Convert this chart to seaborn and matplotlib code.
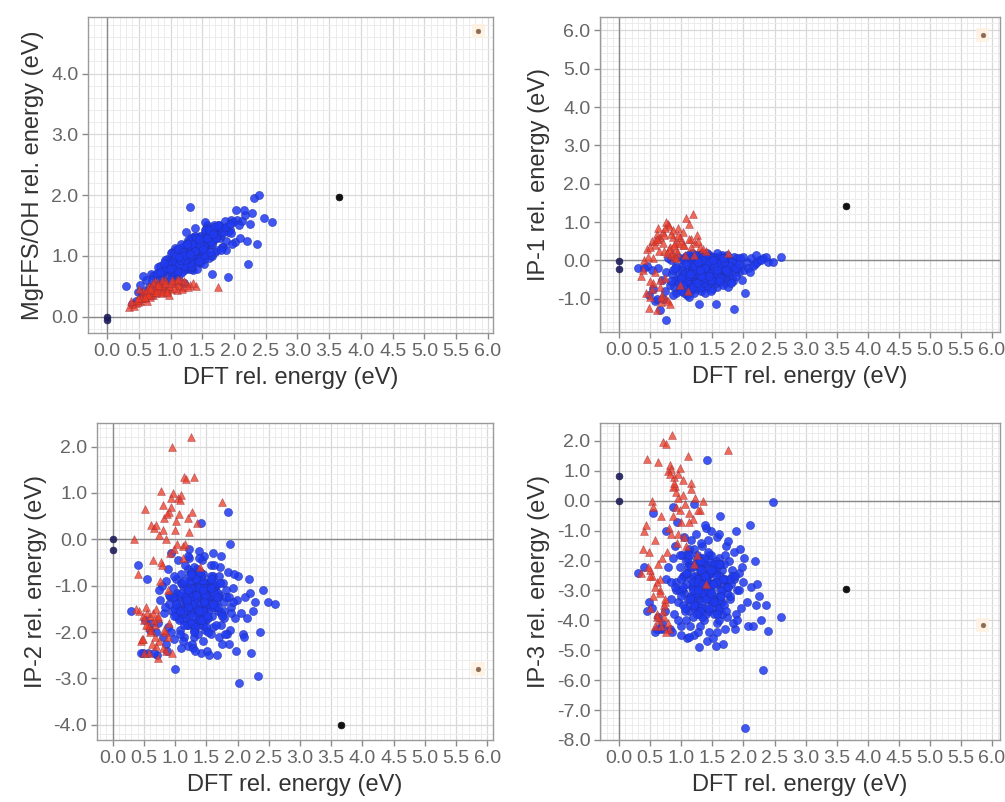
import matplotlib
matplotlib.use("Agg")
import matplotlib.pyplot as plt
import seaborn as sns
from matplotlib.ticker import MultipleLocator, FormatStrFormatter

# ---------------- data ----------------
dft_blue = [
    1.32, 1.05, 1.61, 0.88, 1.47, 1.21, 1.78, 0.97, 1.38, 1.55,
    1.12, 1.69, 0.76, 1.43, 1.27, 1.93, 1.01, 1.36, 1.58, 0.83,
    1.18, 1.49, 1.74, 0.92, 1.30, 1.63, 1.08, 2.05, 1.41, 1.25,
    0.69, 1.52, 1.15, 1.84, 1.34, 0.95, 1.66, 1.22, 1.45, 1.88,
    1.03, 1.57, 0.81, 1.39, 2.12, 1.17, 1.71, 1.28, 0.99, 1.50,
    1.62, 1.10, 1.44, 1.96, 0.86, 1.35, 1.59, 1.20, 1.81, 1.06,
    1.47, 0.73, 1.29, 1.68, 1.13, 2.01, 1.40, 0.94, 1.54, 1.24,
    1.76, 1.02, 1.37, 0.62, 1.60, 1.16, 1.90, 1.31, 1.48, 0.89,
    1.26, 1.72, 1.09, 2.18, 1.42, 0.79, 1.56, 1.19, 1.86, 1.33,
    0.98, 1.65, 1.23, 1.45, 2.25, 1.07, 1.53, 0.85, 1.36, 1.79,
    1.14, 1.99, 1.30, 0.57, 1.61, 1.39, 1.04, 1.70, 1.27, 2.08,
    1.51, 0.91, 1.44, 1.83, 1.19, 1.58, 0.71, 1.34, 1.95, 1.11,
    2.32, 1.46, 1.00, 1.67, 1.25, 2.40, 0.52, 1.88, 2.48, 1.38,
    2.15, 2.60, 1.55, 0.66, 2.22, 1.75, 2.03, 1.12, 2.36, 0.48,
    1.85, 1.29, 2.28, 1.63, 0.75, 2.10, 1.42, 0.93, 1.97, 1.20,
    1.48, 1.08, 1.73, 1.32, 0.87, 1.58, 1.16, 1.80, 1.37, 1.01,
    1.30, 0.30, 0.45, 0.55, 2.20, 0.60, 0.40, 1.90, 1.65, 1.22,
    1.25, 1.40, 1.10, 1.55, 1.33, 1.18, 1.47, 1.62, 1.05, 1.36,
    1.28, 1.52, 1.14, 1.44, 1.71, 1.22, 1.38, 0.96, 1.59, 1.31,
    1.45, 1.09, 1.35, 1.66, 1.20, 1.50, 1.27, 1.82, 1.13, 1.42,
    1.58, 1.24, 1.39, 1.00, 1.53, 1.31, 1.74, 1.16, 1.46, 1.62,
    1.35, 1.19, 1.56, 1.29, 1.43, 0.90, 1.68, 1.26, 1.49, 1.11,
    1.41, 1.64, 1.21, 1.37, 1.06, 1.54, 1.33, 1.78, 1.17, 1.46,
    1.30, 1.50, 1.12, 1.60, 1.39, 1.23, 1.87, 1.44, 1.02, 1.57,
    1.48, 1.27, 1.69, 1.15, 1.36, 1.52, 0.84, 1.40, 1.63, 1.25,
    1.19, 1.43, 1.57, 1.32, 1.75, 1.08, 1.47, 1.34, 1.93, 1.21,
    1.38, 1.61, 1.26, 1.51, 1.14, 1.72, 1.30, 1.45, 0.99, 1.67,
]
mgffs_blue = [
    1.06, 0.67, 1.32, 0.72, 0.88, 1.12, 1.30, 0.90, 0.93, 1.38,
    0.73, 1.32, 0.69, 1.23, 0.79, 1.42, 0.95, 0.76, 1.05, 0.83,
    1.15, 1.14, 1.10, 0.59, 0.98, 1.38, 0.89, 1.59, 0.79, 1.05,
    0.70, 0.86, 0.88, 1.46, 1.25, 0.83, 1.00, 0.78, 1.20, 1.24,
    1.06, 1.24, 0.82, 1.03, 1.58, 0.80, 1.43, 1.11, 0.68, 0.95,
    1.17, 0.95, 0.93, 1.59, 0.70, 1.31, 1.41, 0.81, 1.14, 0.83,
    1.28, 0.67, 0.90, 1.51, 1.00, 1.22, 1.19, 0.95, 1.17, 1.19,
    1.51, 0.70, 1.09, 0.60, 0.96, 0.96, 1.40, 1.23, 1.26, 0.77,
    0.80, 1.29, 1.10, 1.67, 1.30, 0.71, 1.44, 1.01, 1.57, 0.79,
    0.85, 1.44, 0.93, 0.97, 1.52, 1.13, 0.95, 0.60, 1.16, 1.35,
    0.93, 1.55, 1.08, 0.67, 1.37, 1.28, 0.74, 1.07, 1.26, 1.51,
    1.21, 0.93, 1.26, 1.15, 1.06, 1.50, 0.61, 1.00, 1.38, 1.11,
    1.95, 1.30, 0.78, 1.25, 1.40, 2.00, 0.52, 1.10, 1.62, 1.45,
    1.75, 1.55, 1.55, 0.48, 0.87, 1.40, 1.75, 0.64, 1.20, 0.40,
    1.45, 0.85, 1.70, 1.02, 0.52, 1.30, 0.90, 0.80, 1.20, 0.75,
    0.98, 0.88, 1.32, 0.82, 0.62, 1.18, 0.72, 1.10, 1.20, 0.62,
    1.80, 0.50, 0.25, 0.35, 1.25, 0.42, 0.20, 0.65, 0.70, 0.55,
    1.00, 1.19, 0.75, 1.23, 0.84, 1.10, 0.98, 1.22, 0.92, 1.26,
    1.16, 1.11, 1.03, 1.31, 1.33, 0.83, 1.08, 0.87, 1.41, 0.88,
    0.92, 1.05, 1.16, 1.20, 0.96, 1.30, 1.21, 1.40, 0.87, 1.10,
    1.45, 0.99, 1.18, 1.04, 1.02, 1.13, 1.35, 1.19, 1.33, 1.07,
    1.01, 1.01, 1.29, 1.22, 1.13, 0.88, 1.36, 0.95, 1.14, 1.06,
    1.25, 1.29, 0.97, 1.12, 1.03, 1.42, 1.29, 1.47, 1.05, 1.08,
    1.08, 1.15, 1.11, 1.36, 1.33, 0.93, 1.48, 1.09, 0.80, 1.24,
    1.24, 1.16, 1.47, 0.93, 1.01, 1.16, 0.74, 1.29, 1.23, 1.05,
    1.06, 1.11, 1.29, 0.99, 1.51, 0.99, 1.18, 1.20, 1.52, 1.02,
    1.08, 1.42, 1.20, 1.11, 0.98, 1.29, 1.03, 1.27, 0.78, 1.36,
]
ip1_blue = [
    -0.35, 0.05, -0.55, -0.70, 0.10, -0.25, -0.10, -0.45, -0.70, -0.20,
    -0.60, 0.05, -0.30, -0.45, 0.15, -0.30, -0.15, -0.05, -0.70, 0.00,
    -0.05, -0.30, -0.40, -0.85, -0.55, 0.12, -0.35, -0.05, 0.05, -0.75,
    -0.50, -0.10, -0.80, 0.10, -0.20, 0.10, -0.25, -0.45, -0.60, -0.15,
    -0.55, -0.45, -0.65, -0.35, 0.05, 0.18, -0.60, -0.10, -0.25, -0.75,
    -0.05, -0.20, 0.15, -0.15, -0.90, -0.60, 0.00, 0.05, -0.45, -0.70,
    -0.15, -0.80, -0.35, -0.10, -0.45, -0.25, -0.25, -0.30, 0.10, -0.60,
    -0.25, 0.00, -0.45, -0.20, -0.30, -0.65, 0.05, -0.80, -0.45, -0.50,
    0.10, -0.35, -0.90, -0.10, -0.70, 0.05, -0.60, -0.15, -0.30, 0.18,
    -0.75, 0.15, -0.30, -0.05, 0.00, -0.40, -0.30, -0.35, -0.15, 0.00,
    0.00, 0.10, -0.65, -1.05, -0.15, -0.55, -0.85, -0.45, -0.40, -0.20,
    -0.55, -0.15, -0.35, -0.55, -0.55, -0.50, -1.00, -0.30, 0.05, -0.30,
    0.05, 0.00, -0.60, -0.65, -0.05, -0.05, -0.25, -0.40, -0.05, -0.85,
    -0.15, 0.10, -1.15, -1.30, -0.05, -0.70, -0.85, -0.95, 0.08, -0.90,
    -1.28, -1.15, 0.00, 0.05, -1.55, -0.30, 0.20, -0.55, -0.50, -0.85,
    -0.80, 0.12, 0.15, -0.70, -0.25, 0.18, -0.75, -0.60, -0.55, -0.40,
    0.15, -0.20, -0.15, -0.75, 0.15, -1.00, -0.20, -0.20, -0.10, 0.00,
    -0.10, -0.30, -0.50, 0.05, -0.20, -0.40, -0.05, -0.25, -0.35, 0.10,
    -0.45, -0.15, 0.10, -0.35, -0.20, 0.00, -0.55, -0.60, -0.40, -0.25,
    0.05, -0.55, -0.15, -0.45, -0.30, -0.25, -0.50, -0.05, 0.10, -0.40,
    -0.30, 0.15, -0.40, -0.45, 0.00, -0.35, -0.30, -0.10, -0.20, -0.50,
    0.08, -0.70, -0.10, -0.20, -0.40, -0.20, 0.05, -0.55, -0.30, 0.15,
    -0.15, -0.20, -0.35, -0.60, 0.05, -0.40, 0.10, -0.15, -0.25, -0.10,
    -0.55, 0.10, -0.40, -0.10, -0.30, -0.05, -0.20, -0.50, -0.65, -0.35,
    0.05, -0.25, -0.05, -0.35, -0.45, -0.15, -0.55, 0.12, -0.45, -0.60,
    -0.25, -0.05, -0.25, -0.40, -0.30, -0.10, -0.50, 0.00, -0.10, -0.15,
    -0.20, -0.55, -0.05, 0.00, -0.35, -0.25, -0.25, -0.40, -0.80, 0.05,
]
ip2_blue = [
    -1.10, -1.45, -0.80, -1.90, -1.60, -0.65, -1.35, -1.05, -1.85, -1.20,
    -1.75, -1.55, -1.30, -0.45, -1.30, -1.05, -0.85, -1.50, -2.05, -1.60,
    -1.00, -0.95, -1.85, -1.25, -2.10, -1.35, -1.95, -1.60, -1.30, -0.90,
    -2.00, -1.45, -1.20, -0.70, -0.70, -1.55, -1.00, -1.65, -2.20, -1.95,
    -1.15, -0.55, -2.10, -1.00, -1.25, -1.40, -2.10, -1.85, -2.15, -1.75,
    -1.05, -0.75, -1.15, -1.70, -0.90, -1.25, -1.65, -2.30, -1.10, -1.70,
    -0.35, -1.80, -1.55, -1.25, -1.00, -0.80, -1.70, -2.00, -0.95, -1.15,
    -0.95, -1.65, -0.95, -1.80, -1.90, -0.55, -1.45, -0.60, -1.40, -0.65,
    -1.60, -0.60, -2.35, -0.85, -2.45, -1.00, -1.05, -1.85, -2.25, -1.45,
    -0.80, -1.85, -0.40, -0.75, -1.55, -1.25, -1.55, -2.25, -2.05, -1.55,
    -2.10, -1.30, -1.05, -2.45, -0.30, -0.25, -0.45, -0.80, -2.25, -2.05,
    -2.40, -1.40, -1.85, -2.05, -1.15, -1.25, -2.50, -1.15, -0.75, -1.50,
    -2.95, -0.95, -2.80, -2.50, -0.70, -1.10, -1.75, -0.10, -1.35, -0.40,
    -1.70, -1.40, -2.50, -2.45, -2.45, -2.25, -3.10, -2.20, -2.00, -2.45,
    0.60, -2.35, -1.35, -0.55, -1.10, -2.10, 0.35, -0.30, -2.40, -0.35,
    -1.95, -2.05, -0.35, -2.40, -2.40, -0.80, -1.75, -2.05, -0.80, -1.35,
    -1.30, -1.55, -2.45, -0.85, -1.15, -1.95, -0.55, -1.60, -1.45, -0.20,
    -1.25, -1.40, -0.95, -1.10, -0.85, -1.55, -1.30, -1.00, -1.20, -1.65,
    -1.05, -1.70, -1.35, -0.90, -1.20, -1.45, -1.10, -1.25, -0.95, -1.80,
    -1.50, -1.15, -0.65, -1.35, -1.85, -1.05, -1.40, -1.25, -1.60, -0.80,
    -1.40, -0.90, -1.75, -1.50, -1.30, -1.10, -1.60, -1.30, -1.05, -1.45,
    -0.75, -1.35, -1.20, -1.80, -1.55, -1.20, -1.15, -1.05, -1.90, -0.95,
    -1.60, -0.95, -1.45, -1.15, -1.75, -1.40, -0.85, -1.70, -1.25, -1.35,
    -1.95, -1.25, -1.55, -1.45, -1.05, -0.80, -1.25, -1.55, -1.40, -0.85,
    -1.20, -1.65, -1.45, -0.90, -1.50, -2.00, -1.45, -0.70, -1.15, -1.80,
    -1.30, -1.75, -1.05, -1.90, -1.65, -1.55, -1.35, -1.20, -1.35, -1.10,
    -1.55, -1.40, -0.75, -1.65, -1.85, -0.95, -2.00, -1.10, -1.65, -1.25,
]
ip3_blue = [
    -2.40, -3.10, -1.90, -3.80, -2.75, -1.60, -3.30, -2.20, -3.60, -2.00,
    -3.70, -2.80, -2.60, -1.30, -2.90, -2.40, -1.80, -3.20, -4.10, -3.30,
    -2.20, -2.10, -3.90, -2.70, -4.20, -3.00, -4.00, -3.40, -2.55, -1.95,
    -4.10, -3.20, -2.60, -1.70, -1.50, -3.40, -2.30, -3.50, -4.40, -3.80,
    -2.50, -1.20, -4.30, -2.10, -2.90, -2.90, -4.30, -3.80, -4.20, -3.60,
    -2.50, -1.70, -2.45, -3.60, -1.90, -2.70, -3.50, -4.50, -2.30, -3.70,
    -1.00, -3.70, -3.30, -2.65, -2.10, -1.90, -3.80, -4.00, -2.20, -2.50,
    -2.00, -3.50, -2.10, -3.90, -4.00, -1.30, -3.00, -1.40, -3.00, -1.50,
    -3.50, -1.50, -4.60, -2.00, -4.70, -2.20, -2.40, -3.90, -4.30, -3.10,
    -1.80, -3.80, -1.10, -1.80, -3.20, -2.80, -3.30, -4.40, -4.00, -3.20,
    -4.20, -2.70, -2.30, -4.40, -1.10, -0.90, -1.20, -1.80, -4.40, -4.20,
    -4.60, -3.00, -3.70, -4.10, -2.50, -2.80, -4.30, -2.50, -1.60, -3.30,
    -5.65, -2.00, -4.50, -4.80, -1.80, -4.35, -3.60, -1.00, -0.05, -0.80,
    -4.20, -3.90, -4.85, -4.30, -2.80, -1.35, -7.60, -4.55, -3.50, -3.40,
    -2.60, -4.90, -4.00, -0.50, -1.00, -0.80, 1.35, -0.70, -2.20, -0.10,
    -3.40, -2.00, -3.10, -3.00, -0.20, -4.40, -3.20, -2.80, -2.90, -3.00,
    -2.20, -2.40, -3.70, -0.40, -3.50, -4.30, -2.20, -4.00, -3.40, -2.80,
    -2.60, -3.00, -2.20, -2.70, -3.40, -2.90, -1.80, -3.20, -2.50, -2.30,
    -2.80, -2.30, -3.50, -3.10, -2.60, -2.10, -2.90, -3.00, -3.70, -1.90,
    -3.30, -2.40, -2.00, -3.00, -3.60, -2.80, -2.60, -2.50, -1.60, -3.10,
    -2.20, -3.20, -2.80, -2.60, -3.80, -3.60, -2.90, -2.20, -2.40, -3.40,
    -3.10, -2.70, -2.50, -2.00, -3.00, -2.90, -2.10, -3.70, -3.30, -1.90,
    -2.70, -3.20, -3.20, -2.40, -3.60, -2.10, -3.90, -2.60, -3.30, -2.90,
    -3.70, -2.30, -1.80, -3.60, -2.60, -3.10, -2.50, -2.40, -2.90, -2.70,
    -2.30, -2.70, -3.50, -3.20, -1.90, -3.40, -2.70, -3.30, -2.10, -3.80,
    -3.00, -1.70, -3.80, -2.30, -2.90, -2.40, -3.10, -2.80, -3.00, -3.50,
    -2.50, -2.10, -3.00, -2.80, -3.30, -3.70, -2.00, -3.60, -3.20, -2.60,
]

dft_red = [
    0.45, 0.62, 0.78, 0.55, 0.90, 0.70, 1.05, 0.50, 0.85, 0.65,
    0.95, 0.58, 0.75, 1.15, 0.40, 0.68, 0.82, 1.25, 0.52, 0.72,
    0.88, 1.00, 0.60, 0.35, 0.80, 1.10, 0.48, 0.92, 0.66, 1.20,
    0.57, 0.76, 1.30, 0.43, 0.84, 0.63, 0.98, 0.54, 1.08, 0.73,
    0.87, 1.40, 0.61, 0.95, 0.69, 1.75, 0.50, 0.79, 1.18, 0.38,
    0.72, 0.88, 1.02, 0.58, 0.80, 1.12, 0.66, 0.93, 0.47, 1.22,
    0.83, 0.64, 1.06, 0.74, 0.97, 0.53, 1.16, 0.86, 0.70, 1.35,
    0.60, 0.91, 0.77, 1.03, 0.49, 0.81, 1.27, 0.68, 0.94, 1.12,
]
mgffs_red = [
    0.22, 0.35, 0.45, 0.30, 0.52, 0.40, 0.55, 0.28, 0.50, 0.45,
    0.48, 0.38, 0.58, 0.50, 0.20, 0.32, 0.42, 0.55, 0.25, 0.36,
    0.40, 0.46, 0.30, 0.15, 0.55, 0.44, 0.24, 0.60, 0.50, 0.48,
    0.42, 0.38, 0.52, 0.18, 0.47, 0.26, 0.35, 0.33, 0.58, 0.55,
    0.60, 0.50, 0.40, 0.43, 0.36, 0.48, 0.45, 0.52, 0.46, 0.26,
    0.40, 0.47, 0.55, 0.32, 0.44, 0.52, 0.37, 0.42, 0.27, 0.58,
    0.50, 0.36, 0.47, 0.43, 0.50, 0.30, 0.60, 0.38, 0.48, 0.55,
    0.33, 0.55, 0.41, 0.60, 0.30, 0.52, 0.48, 0.45, 0.40, 0.62,
]
ip1_red = [
    0.30, 0.55, 0.95, -0.60, 0.45, 0.75, 0.40, -0.95, 0.20, 0.60,
    0.85, -0.30, 1.00, 0.55, 0.00, -1.10, 0.35, 0.65, 0.50, 0.25,
    0.10, 0.50, 0.70, -0.40, 0.90, -0.80, -1.25, 0.30, -0.70, 0.15,
    0.40, -1.00, 0.35, -0.85, 0.15, 0.85, -0.65, 0.05, 1.10, -0.45,
    0.60, 0.25, -1.30, 0.45, -0.90, 0.20, 0.35, -1.05, 1.20, -0.25,
    0.65, 0.40, 0.75, 0.50, 0.30, 0.55, -0.50, 0.20, 0.10, 0.45,
    0.70, 0.25, 0.15, 0.85, 0.60, -0.75, 0.35, 0.80, 0.45, 0.30,
    0.55, 0.05, 0.20, 0.40, -0.55, -1.15, 0.50, -0.95, 0.65, 0.95,
]
ip2_red = [
    -2.20, 0.30, 1.05, -1.60, 0.60, -2.30, 0.90, -1.75, 0.00, -0.45,
    2.00, -2.45, 0.10, 1.35, -0.75, -1.85, 0.45, 2.20, 0.65, -2.55,
    -1.10, 0.20, -1.65, 0.00, 0.75, 0.95, -2.15, -0.30, 0.25, 0.45,
    -1.85, -0.90, 1.35, -1.55, -2.00, -2.25, -0.20, -1.45, 0.85, -1.70,
    0.55, -0.60, -1.95, -2.45, 0.30, 0.80, -2.45, -0.55, 1.30, -1.50,
    -1.65, -2.10, 0.40, -1.90, -2.35, -0.15, -1.75, 0.70, -2.15, 0.15,
    -1.95, -1.60, 0.55, -2.20, 1.00, -1.85, -0.10, -2.40, -1.50, 0.35,
    -2.00, -1.80, -0.50, -0.10, -1.65, 0.20, 0.60, -2.10, 0.90, -0.40,
]
ip3_red = [
    1.40, 1.30, 1.00, -3.20, 0.50, 1.95, -1.20, -3.60, 2.20, -2.60,
    0.10, -4.20, 1.90, 0.60, -1.00, -0.50, 1.20, -1.80, 0.00, -3.90,
    0.80, -0.70, -2.70, -2.40, -4.30, 1.50, -1.70, 0.30, -3.00, -2.10,
    -1.30, -4.40, -0.30, -0.80, 1.05, -2.10, -0.30, -0.20, -1.50, -3.40,
    0.45, -2.80, -3.80, 0.90, -1.90, 1.70, -2.30, -4.10, -0.60, -1.60,
    -3.50, 0.60, 0.20, -2.90, -0.90, -0.40, -3.10, -1.40, -2.20, 0.10,
    -1.10, -4.00, -0.10, -3.30, 1.10, -2.50, 0.40, -0.50, -3.70, 0.00,
    -3.90, -0.20, -1.70, 0.70, -2.50, 0.90, -0.30, -4.20, -1.10, -0.70,
]

# reference structures near the origin, the black outlier and the orange outlier
dft_origin = [0.0, 0.0]
mgffs_origin = [0.0, -0.05]
ip1_origin = [-0.02, -0.22]
ip2_origin = [0.0, -0.22]
ip3_origin = [0.82, 0.0]

dft_black = [3.65]
dft_orange = [5.85]
black_vals = {"MgFFS/OH": [1.97], "IP-1": [1.42], "IP-2": [-4.0], "IP-3": [-2.95]}
orange_vals = {"MgFFS/OH": [4.70], "IP-1": [5.88], "IP-2": [-2.80], "IP-3": [-4.15]}

panels = ["MgFFS/OH", "IP-1", "IP-2", "IP-3"]
blue_vals = {"MgFFS/OH": mgffs_blue, "IP-1": ip1_blue, "IP-2": ip2_blue, "IP-3": ip3_blue}
red_vals = {"MgFFS/OH": mgffs_red, "IP-1": ip1_red, "IP-2": ip2_red, "IP-3": ip3_red}
origin_vals = {"MgFFS/OH": mgffs_origin, "IP-1": ip1_origin, "IP-2": ip2_origin, "IP-3": ip3_origin}

x_ticks = [0.0, 0.5, 1.0, 1.5, 2.0, 2.5, 3.0, 3.5, 4.0, 4.5, 5.0, 5.5, 6.0]
y_ticks = {
    "MgFFS/OH": [0.0, 1.0, 2.0, 3.0, 4.0],
    "IP-1": [-1.0, 0.0, 1.0, 2.0, 3.0, 4.0, 5.0, 6.0],
    "IP-2": [-4.0, -3.0, -2.0, -1.0, 0.0, 1.0, 2.0],
    "IP-3": [-8.0, -7.0, -6.0, -5.0, -4.0, -3.0, -2.0, -1.0, 0.0, 1.0, 2.0],
}

# ---------------- layout / style ----------------
sns.set_theme(style="white")
plt.rcParams["font.family"] = ["Liberation Sans", "DejaVu Sans"]

W, H = 1005, 802
fig = plt.figure(figsize=(W / 100, H / 100), dpi=100)
fig.patch.set_facecolor("white")

boxes = {  # left, right, top, bottom in pixels
    "MgFFS/OH": (88, 493, 17, 333),
    "IP-1": (600, 1000, 17, 332),
    "IP-2": (97, 493, 423, 740),
    "IP-3": (600, 1000, 423, 740),
}
xlims = {"MgFFS/OH": (-0.30, 6.08), "IP-1": (-0.31, 6.13), "IP-2": (-0.25, 6.09), "IP-3": (-0.31, 6.13)}
ylims = {"MgFFS/OH": (-0.27, 4.93), "IP-1": (-1.87, 6.35), "IP-2": (-4.33, 2.51), "IP-3": (-8.0, 2.6)}
ymin_step = {"MgFFS/OH": 0.2, "IP-1": 0.2, "IP-2": 0.2, "IP-3": 0.25}

BLUE = "#1f3af2"
RED = "#ee3a22"

for name in panels:
    l, r, t, b = boxes[name]
    ax = fig.add_axes([l / W, 1 - b / H, (r - l) / W, (b - t) / H])
    ax.set_facecolor("white")
    ax.set_axisbelow(True)

    ax.axhline(0, color="#8a8a8a", lw=1.0, zorder=1)
    ax.axvline(0, color="#8a8a8a", lw=1.0, zorder=1)

    sns.scatterplot(x=dft_blue, y=blue_vals[name], ax=ax, marker="o", s=34,
                    color=BLUE, alpha=0.85, edgecolor="#2030a8", linewidth=0.4, zorder=3)
    sns.scatterplot(x=dft_red, y=red_vals[name], ax=ax, marker="^", s=32,
                    color=RED, alpha=0.75, edgecolor="#9a3040", linewidth=0.4, zorder=4)
    sns.scatterplot(x=dft_origin, y=origin_vals[name], ax=ax, marker="o", s=24,
                    color="#1c1c5a", alpha=0.9, edgecolor="#1c1c5a", linewidth=0.5, zorder=5)
    sns.scatterplot(x=dft_black, y=black_vals[name], ax=ax, marker="o", s=24,
                    color="#111111", edgecolor="#111111", linewidth=0.5, zorder=5)
    sns.scatterplot(x=dft_orange, y=orange_vals[name], ax=ax, marker="s", s=95,
                    color="#fff0e0", alpha=0.8, edgecolor="none", zorder=4)
    sns.scatterplot(x=dft_orange, y=orange_vals[name], ax=ax, marker="o", s=12,
                    color="#8c6b55", edgecolor="#8c6b55", linewidth=0.3, zorder=5)

    ax.set_xlim(*xlims[name])
    ax.set_ylim(*ylims[name])
    ax.set_xticks(x_ticks)
    ax.set_yticks(y_ticks[name])
    ax.xaxis.set_major_formatter(FormatStrFormatter("%.1f"))
    ax.yaxis.set_major_formatter(FormatStrFormatter("%.1f"))
    ax.xaxis.set_minor_locator(MultipleLocator(0.1))
    ax.yaxis.set_minor_locator(MultipleLocator(ymin_step[name]))

    ax.grid(True, which="major", color="#d8d8d8", lw=0.9)
    ax.grid(True, which="minor", color="#ececec", lw=0.7)

    for sp in ax.spines.values():
        sp.set_visible(True)
        sp.set_color("#9a9a9a")
        sp.set_linewidth(1.0)

    ax.tick_params(axis="both", which="major", direction="out", length=4, width=1,
                   color="#8a8a8a", labelcolor="#666666", labelsize=14, pad=3,
                   bottom=True, left=True)
    ax.tick_params(axis="both", which="minor", length=0)

    ax.set_xlabel("DFT rel. energy (eV)", fontsize=17, color="#333333", labelpad=5)
    ax.set_ylabel(f"{name} rel. energy (eV)", fontsize=17, color="#333333", labelpad=5)

fig.savefig("out.png", dpi=100, facecolor="white")
